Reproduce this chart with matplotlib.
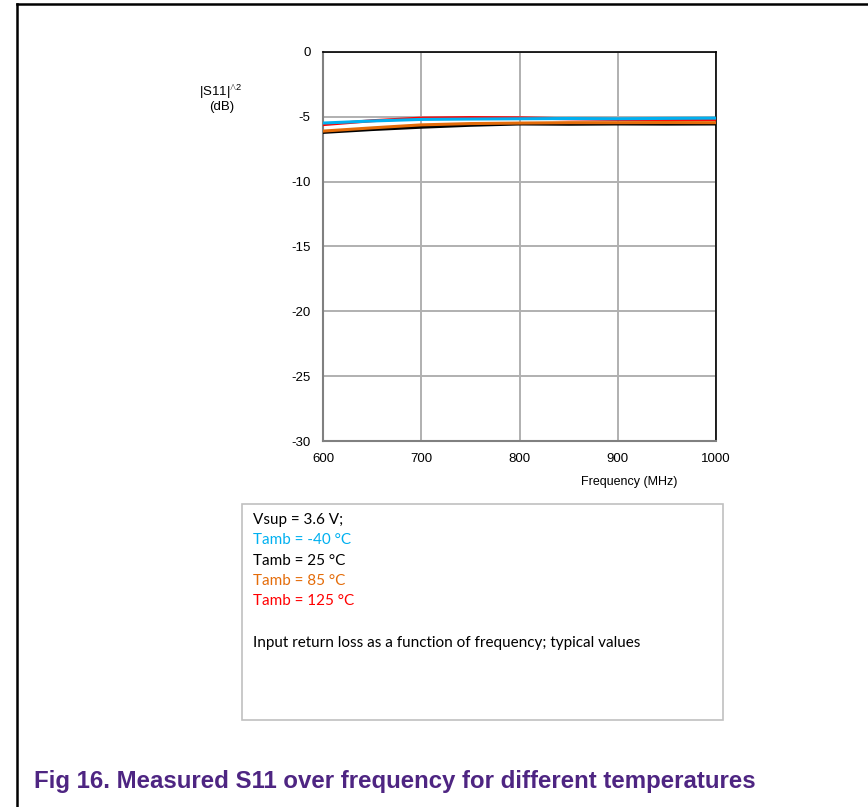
import matplotlib.pyplot as plt
import matplotlib.patches as mpatches
from matplotlib.lines import Line2D

plt.rcParams['font.family'] = ['Liberation Sans', 'DejaVu Sans']
plt.rcParams['mathtext.fontset'] = 'custom'
plt.rcParams['mathtext.rm'] = 'Liberation Sans'
plt.rcParams['axes.unicode_minus'] = False

# measured |S11|^2 (dB) vs frequency (MHz)
freq = [600, 650, 700, 750, 800, 850, 900, 950, 1000]
s11_m40 = [-5.48, -5.32, -5.2, -5.17, -5.15, -5.13, -5.15, -5.12, -5.1]
s11_25 = [-6.2, -5.98, -5.8, -5.65, -5.55, -5.57, -5.55, -5.56, -5.55]
s11_85 = [-6.1, -5.85, -5.62, -5.52, -5.48, -5.45, -5.45, -5.44, -5.45]
s11_125 = [-5.6, -5.3, -5.1, -5.06, -5.08, -5.15, -5.2, -5.2, -5.2]

series = [
    (s11_m40, '#00b0f0', 'Tamb = -40 °C'),
    (s11_25, '#000000', 'Tamb = 25 °C'),
    (s11_85, '#e46c0a', 'Tamb = 85 °C'),
    (s11_125, '#ff0000', 'Tamb = 125 °C'),
]

W, H = 868, 807
fig = plt.figure(figsize=(W / 100, H / 100), dpi=100)
ax = fig.add_axes([323 / W, 1 - 441 / H, (716 - 323) / W, (441 - 52) / H])

# draw order: black, orange, red, blue on top
for idx in [1, 2, 3, 0]:
    vals, col, _ = series[idx]
    ax.plot(freq, vals, color=col, lw=2.2, zorder=3)

ax.set_xlim(600, 1000)
ax.set_ylim(-30, 0)
ax.set_xticks([600, 700, 800, 900, 1000])
ax.set_yticks([0, -5, -10, -15, -20, -25, -30])
ax.grid(True, color='#b0b0b0', lw=1.4)
ax.tick_params(length=0, labelsize=9.5, pad=9)
ax.tick_params(axis='x', pad=9)
for s in ['left', 'bottom']:
    ax.spines[s].set_color('#808080')
    ax.spines[s].set_linewidth(1.5)
for s in ['top', 'right']:
    ax.spines[s].set_color('#000000')
    ax.spines[s].set_linewidth(1.2)

fig.text(221 / W, 1 - 92 / H, r'|S11|$^{\wedge 2}$', ha='center', va='center', fontsize=9.5)
fig.text(222 / W, 1 - 107 / H, '(dB)', ha='center', va='center', fontsize=9.5)
fig.text(629 / W, 1 - 482 / H, 'Frequency (MHz)', ha='center', va='center', fontsize=9)

# legend box
fig.add_artist(mpatches.Rectangle((242 / W, 1 - 720 / H), (723 - 242) / W, (720 - 504) / H,
                                  transform=fig.transFigure, fill=False,
                                  edgecolor='#c0c0c0', lw=1.2))
lines = [('Vsup = 3.6 V;', '#000000')] + [(lab, col) for _, col, lab in series]
for i, (txt, col) in enumerate(lines):
    fig.text(253 / W, 1 - (520 + 20.3 * i) / H, txt, color=col, fontsize=11,
             family='Lato', va='center')
fig.text(253 / W, 1 - 643 / H, 'Input return loss as a function of frequency; typical values',
         color='#000000', fontsize=11, family='Lato', va='center')

# page frame
fig.add_artist(Line2D([16.5 / W, 1], [1 - 3.5 / H, 1 - 3.5 / H], transform=fig.transFigure,
                      color='black', lw=1.8))
fig.add_artist(Line2D([16.5 / W, 16.5 / W], [0, 1 - 3.5 / H], transform=fig.transFigure,
                      color='black', lw=1.8))

fig.text(34 / W, 1 - 788 / H, 'Fig 16. Measured S11 over frequency for different temperatures',
         color='#4e2582', fontsize=17.3, fontweight='bold', va='baseline')

fig.savefig('out.png', dpi=100)
